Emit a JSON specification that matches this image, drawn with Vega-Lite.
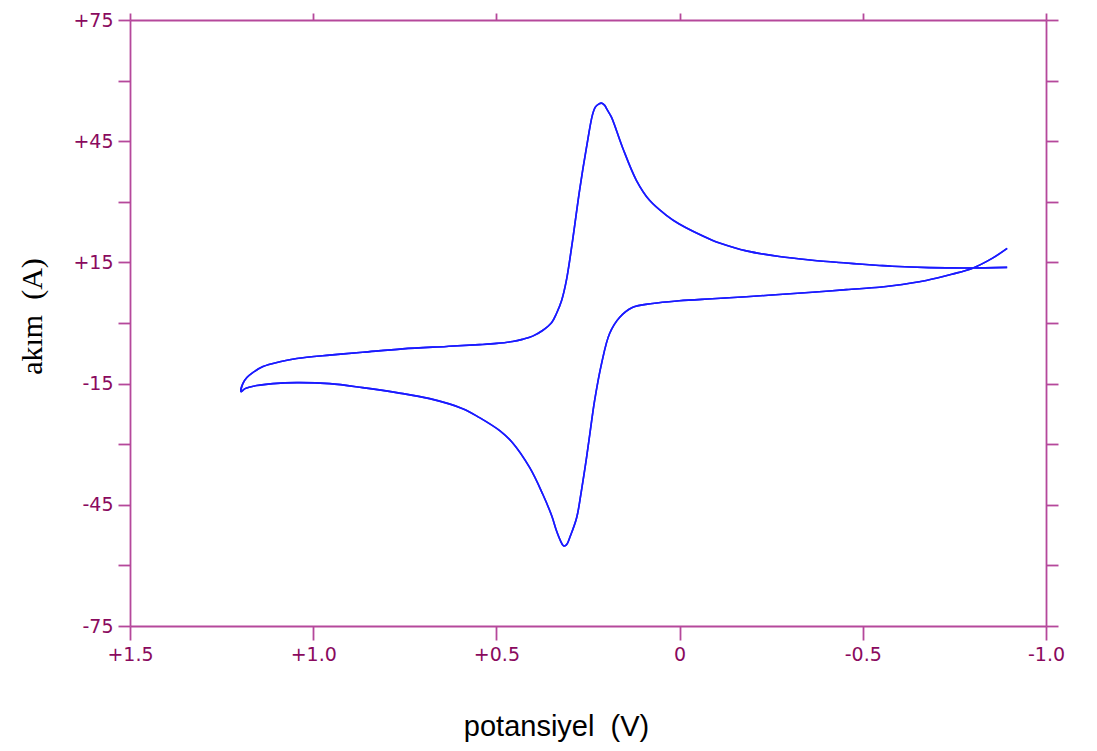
{
  "$schema": "https://vega.github.io/schema/vega-lite/v6.json",
  "width": 916,
  "height": 606,
  "autosize": "none",
  "padding": {"left": 130, "top": 20, "right": 51, "bottom": 125},
  "background": "white",
  "config": {
    "view": {"stroke": null},
    "axis": {
      "grid": false,
      "domainColor": "#b5489b",
      "domainWidth": 1.8,
      "tickColor": "#b5489b",
      "tickWidth": 1.8,
      "labelColor": "#8a0a5e",
      "labelFont": "DejaVu Sans",
      "labelFontSize": 19,
      "labelFlush": false,
      "labelOverlap": false,
      "labelBound": false
    }
  },
  "data": {
    "values": [
      {"i": 0, "v": -0.894, "a": 13.76},
      {"i": 1, "v": -0.790, "a": 13.6},
      {"i": 2, "v": -0.681, "a": 13.7},
      {"i": 3, "v": -0.580, "a": 14.05},
      {"i": 4, "v": -0.545, "a": 14.25},
      {"i": 5, "v": -0.490, "a": 14.6},
      {"i": 6, "v": -0.455, "a": 14.85},
      {"i": 7, "v": -0.362, "a": 15.55},
      {"i": 8, "v": -0.272, "a": 16.45},
      {"i": 9, "v": -0.182, "a": 17.85},
      {"i": 10, "v": -0.109, "a": 19.8},
      {"i": 11, "v": -0.089, "a": 20.5},
      {"i": 13, "v": 0.001, "a": 24.5},
      {"i": 14, "v": 0.036, "a": 26.65},
      {"i": 15, "v": 0.082, "a": 30.37},
      {"i": 16, "v": 0.118, "a": 35.33},
      {"i": 17, "v": 0.156, "a": 43.51},
      {"i": 18, "v": 0.186, "a": 50.95},
      {"i": 19, "v": 0.197, "a": 52.69},
      {"i": 20, "v": 0.205, "a": 53.93},
      {"i": 21, "v": 0.213, "a": 54.42},
      {"i": 22, "v": 0.221, "a": 54.17},
      {"i": 23, "v": 0.230, "a": 53.43},
      {"i": 24, "v": 0.238, "a": 51.45},
      {"i": 25, "v": 0.254, "a": 43.51},
      {"i": 26, "v": 0.273, "a": 32.85},
      {"i": 27, "v": 0.292, "a": 20.46},
      {"i": 28, "v": 0.309, "a": 10.54},
      {"i": 29, "v": 0.322, "a": 5.58},
      {"i": 30, "v": 0.336, "a": 2.36},
      {"i": 31, "v": 0.349, "a": 0.13},
      {"i": 32, "v": 0.374, "a": -1.86},
      {"i": 33, "v": 0.401, "a": -3.25},
      {"i": 34, "v": 0.429, "a": -4.05},
      {"i": 35, "v": 0.456, "a": -4.6},
      {"i": 36, "v": 0.499, "a": -5.05},
      {"i": 37, "v": 0.546, "a": -5.35},
      {"i": 38, "v": 0.636, "a": -5.8},
      {"i": 39, "v": 0.756, "a": -6.4},
      {"i": 40, "v": 0.865, "a": -7.25},
      {"i": 41, "v": 0.955, "a": -7.95},
      {"i": 42, "v": 1.045, "a": -8.80},
      {"i": 43, "v": 1.091, "a": -9.6},
      {"i": 44, "v": 1.137, "a": -10.78},
      {"i": 45, "v": 1.165, "a": -12.27},
      {"i": 46, "v": 1.181, "a": -13.51},
      {"i": 47, "v": 1.192, "a": -15.00},
      {"i": 48, "v": 1.197, "a": -16.98},
      {"i": 49, "v": 1.186, "a": -16.24},
      {"i": 50, "v": 1.154, "a": -15.49},
      {"i": 51, "v": 1.110, "a": -15.00},
      {"i": 52, "v": 1.045, "a": -14.75},
      {"i": 53, "v": 0.955, "a": -15.00},
      {"i": 54, "v": 0.865, "a": -15.99},
      {"i": 55, "v": 0.772, "a": -17.23},
      {"i": 56, "v": 0.682, "a": -18.72},
      {"i": 57, "v": 0.592, "a": -21.20},
      {"i": 58, "v": 0.546, "a": -23.43},
      {"i": 59, "v": 0.491, "a": -26.65},
      {"i": 60, "v": 0.456, "a": -29.63},
      {"i": 61, "v": 0.409, "a": -35.82},
      {"i": 62, "v": 0.374, "a": -42.27},
      {"i": 63, "v": 0.349, "a": -47.73},
      {"i": 64, "v": 0.336, "a": -51.44},
      {"i": 65, "v": 0.325, "a": -53.92},
      {"i": 66, "v": 0.317, "a": -55.16},
      {"i": 67, "v": 0.309, "a": -54.92},
      {"i": 68, "v": 0.298, "a": -52.68},
      {"i": 69, "v": 0.281, "a": -48.22},
      {"i": 70, "v": 0.268, "a": -41.53},
      {"i": 71, "v": 0.254, "a": -33.35},
      {"i": 72, "v": 0.243, "a": -26.16},
      {"i": 73, "v": 0.232, "a": -19.21},
      {"i": 74, "v": 0.213, "a": -10.04},
      {"i": 75, "v": 0.191, "a": -2.60},
      {"i": 76, "v": 0.164, "a": 1.36},
      {"i": 77, "v": 0.129, "a": 3.84},
      {"i": 78, "v": 0.074, "a": 4.84},
      {"i": 79, "v": 0.001, "a": 5.5},
      {"i": 80, "v": -0.089, "a": 6.0},
      {"i": 81, "v": -0.182, "a": 6.5},
      {"i": 82, "v": -0.272, "a": 7.05},
      {"i": 83, "v": -0.362, "a": 7.6},
      {"i": 84, "v": -0.455, "a": 8.25},
      {"i": 85, "v": -0.545, "a": 8.85},
      {"i": 86, "v": -0.580, "a": 9.2},
      {"i": 87, "v": -0.673, "a": 10.54},
      {"i": 88, "v": -0.744, "a": 12.1},
      {"i": 89, "v": -0.798, "a": 13.51},
      {"i": 90, "v": -0.853, "a": 15.99},
      {"i": 91, "v": -0.894, "a": 18.47}
    ]
  },
  "layer": [
    {
      "mark": {"type": "line", "color": "#1a1aff", "strokeWidth": 1.6, "interpolate": "catmull-rom"},
      "encoding": {
        "x": {
          "field": "v", "type": "quantitative",
          "scale": {"domain": [-1, 1.5], "reverse": true, "nice": false, "zero": false},
          "axis": {
            "orient": "bottom",
            "values": [1.5, 1, 0.5, 0, -0.5, -1],
            "tickSize": 14,
            "labelPadding": 5,
            "labelExpr": "datum.value > 0 ? '+' + format(datum.value, '.1f') : (datum.value == 0 ? '0' : '-' + format(abs(datum.value), '.1f'))",
            "title": "potansiyel\u00a0\u00a0(V)",
            "titleFont": "Liberation Sans",
            "titleFontSize": 29,
            "titleFontWeight": "normal",
            "titleColor": "#000000",
            "titleAnchor": "middle",
            "titleX": 426,
            "titleY": 109,
            "titleBaseline": "alphabetic"
          }
        },
        "y": {
          "field": "a", "type": "quantitative",
          "scale": {"domain": [-75, 75], "nice": false, "zero": false},
          "axis": {
            "orient": "left",
            "values": [-75, -60, -45, -30, -15, 0, 15, 30, 45, 60, 75],
            "tickSize": 12,
            "labelPadding": 5,
            "labelExpr": "abs(datum.value) % 30 == 15 ? (datum.value > 0 ? '+' + datum.value : '-' + abs(datum.value)) : ''",
            "title": "akım\u00a0\u00a0(A)",
            "titleFont": "Liberation Serif",
            "titleFontSize": 30,
            "titleFontWeight": "normal",
            "titleColor": "#000000",
            "titleAngle": 270,
            "titleAnchor": "middle",
            "titleX": -89,
            "titleY": 296,
            "titleBaseline": "alphabetic"
          }
        },
        "order": {"field": "i", "type": "quantitative"}
      }
    },
    {
      "mark": {"type": "line", "color": "#1a1aff", "strokeWidth": 1.6, "interpolate": "catmull-rom"},
      "encoding": {
        "x": {
          "field": "v", "type": "quantitative",
          "axis": {
            "orient": "top",
            "values": [1.5, 1, 0.5, 0, -0.5, -1],
            "tickSize": 7,
            "labels": false,
            "title": null
          }
        },
        "y": {
          "field": "a", "type": "quantitative",
          "axis": {
            "orient": "right",
            "values": [-75, -60, -45, -30, -15, 0, 15, 30, 45, 60, 75],
            "tickSize": 12,
            "labels": false,
            "title": null
          }
        },
        "order": {"field": "i", "type": "quantitative"}
      }
    }
  ],
  "resolve": {"axis": {"x": "independent", "y": "independent"}}
}
